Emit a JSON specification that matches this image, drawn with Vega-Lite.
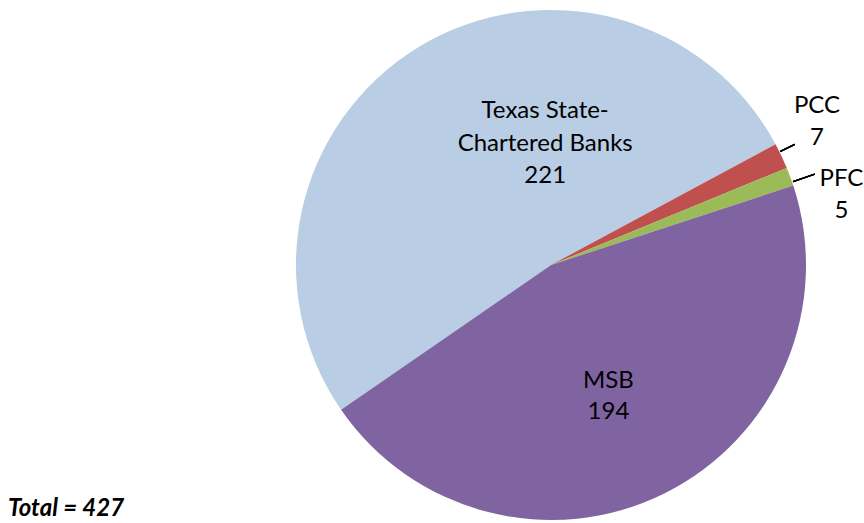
{
  "$schema": "https://vega.github.io/schema/vega-lite/v6.json",
  "width": 510,
  "height": 510,
  "autosize": {"type": "none"},
  "padding": {"left": 296, "top": 10, "right": 58, "bottom": 3},
  "background": "white",
  "config": {"view": {"stroke": null}},
  "title": {
    "text": "Total = 427",
    "orient": "bottom",
    "anchor": "start",
    "frame": "group",
    "font": "Lato",
    "fontSize": 24,
    "fontWeight": "bold",
    "fontStyle": "italic",
    "color": "black",
    "baseline": "alphabetic",
    "offset": 0,
    "dx": -288,
    "dy": -48
  },
  "data": {
    "values": [
      {"name": "Texas State-Chartered Banks", "label": "Texas State-\nChartered Banks", "value": 221, "rank": 1},
      {"name": "PCC", "label": "PCC", "value": 7, "rank": 2},
      {"name": "PFC", "label": "PFC", "value": 5, "rank": 3},
      {"name": "MSB", "label": "MSB", "value": 194, "rank": 4}
    ]
  },
  "transform": [{"calculate": "datum.label + '\\n' + datum.value", "as": "text"}],
  "encoding": {
    "theta": {"field": "value", "type": "quantitative", "stack": true, "scale": {"range": [4.1085, 10.3917]}},
    "order": {"field": "rank", "type": "quantitative"}
  },
  "layer": [
    {
      "mark": {"type": "arc"},
      "encoding": {
        "color": {
          "field": "name",
          "type": "nominal",
          "scale": {
            "domain": ["Texas State-Chartered Banks", "PCC", "PFC", "MSB"],
            "range": ["#B9CDE5", "#C0504D", "#9BBB59", "#8064A2"]
          },
          "legend": null
        }
      }
    },
    {
      "mark": {"type": "arc", "radius": 272, "radius2": 256, "fill": "transparent", "stroke": "black", "strokeWidth": 1.4},
      "encoding": {
        "theta": {"datum": 223.3},
        "theta2": {"datum": 223.3}
      }
    },
    {
      "mark": {"type": "arc", "radius": 279, "radius2": 256, "fill": "transparent", "stroke": "black", "strokeWidth": 1.4},
      "encoding": {
        "theta": {"datum": 232.0},
        "theta2": {"datum": 232.0}
      }
    },
    {
      "mark": {"type": "text", "radius": 130, "dx": 62, "dy": -43, "font": "Lato", "fontSize": 24, "lineBreak": "\n", "lineHeight": 32.5, "fill": "black", "align": "center", "baseline": "middle"},
      "encoding": {
        "text": {"condition": {"test": "datum.name === 'Texas State-Chartered Banks'", "field": "text"}, "value": ""}
      }
    },
    {
      "mark": {"type": "text", "radius": 145, "dx": -7, "dy": -14, "font": "Lato", "fontSize": 24, "lineBreak": "\n", "lineHeight": 31.5, "fill": "black", "align": "center", "baseline": "middle"},
      "encoding": {
        "text": {"condition": {"test": "datum.name === 'MSB'", "field": "text"}, "value": ""}
      }
    },
    {
      "mark": {"type": "text", "radius": 302, "dx": -7, "dy": -30, "font": "Lato", "fontSize": 24, "lineBreak": "\n", "lineHeight": 32.5, "fill": "black", "align": "center", "baseline": "middle"},
      "encoding": {
        "text": {"condition": {"test": "datum.name === 'PCC'", "field": "text"}, "value": ""}
      }
    },
    {
      "mark": {"type": "text", "radius": 300, "dx": 9, "dy": 18, "font": "Lato", "fontSize": 24, "lineBreak": "\n", "lineHeight": 31.5, "fill": "black", "align": "center", "baseline": "middle"},
      "encoding": {
        "text": {"condition": {"test": "datum.name === 'PFC'", "field": "text"}, "value": ""}
      }
    }
  ]
}
